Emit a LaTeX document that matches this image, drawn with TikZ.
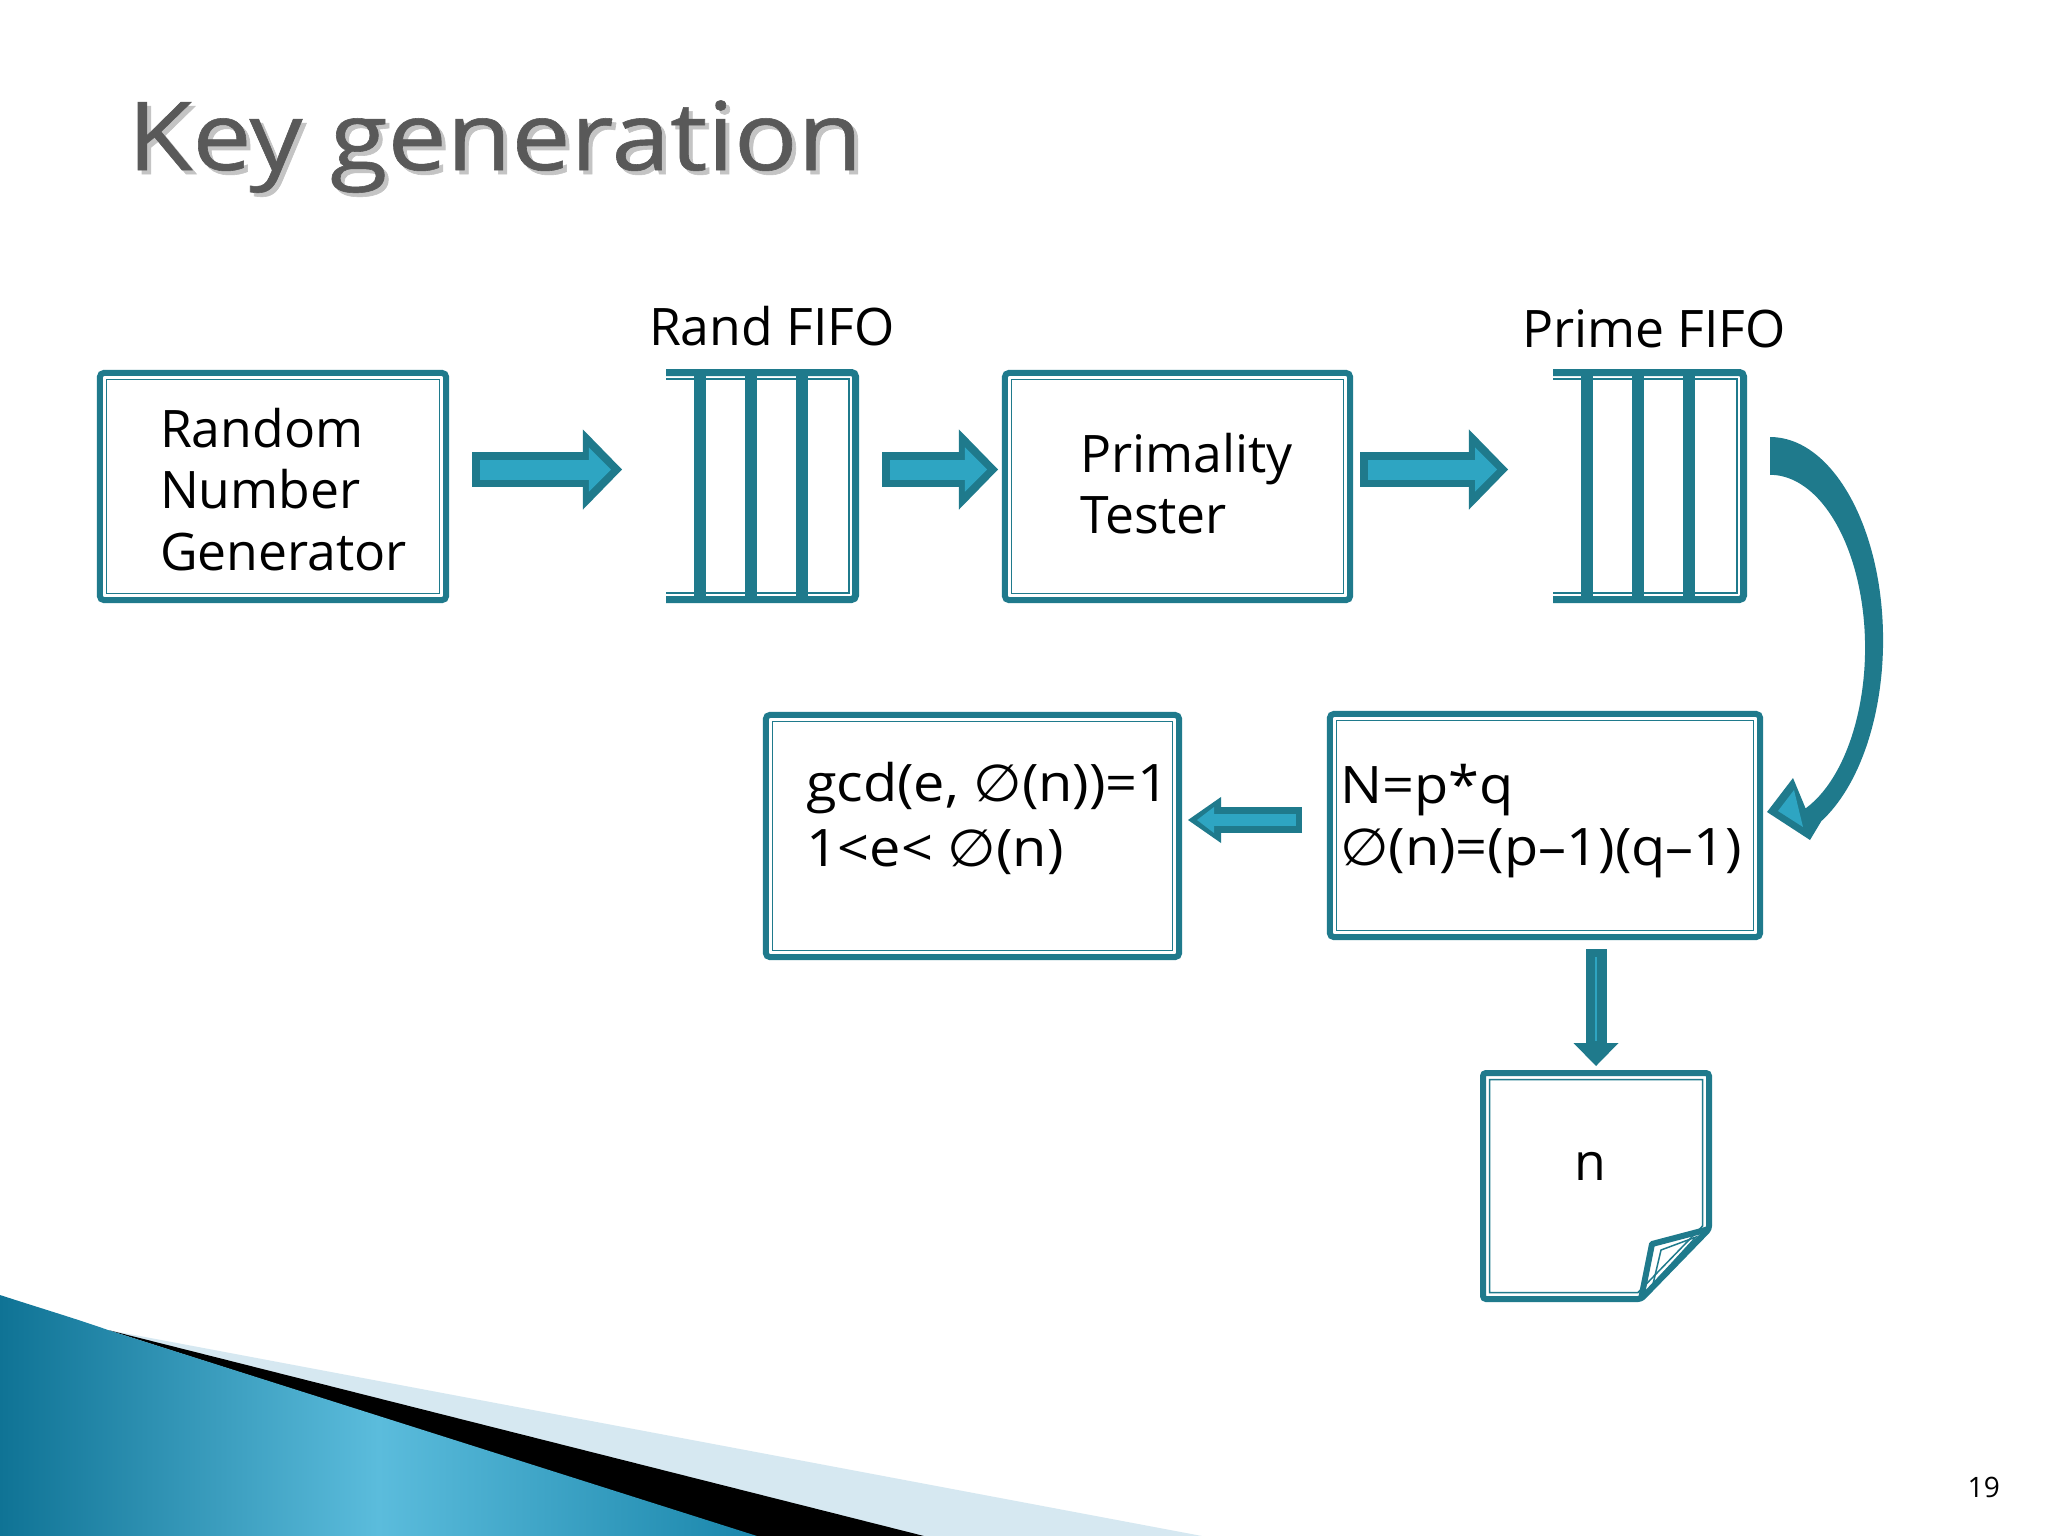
\documentclass[tikz,border=0pt]{standalone}
\usepackage{fontspec}
\setmainfont{Open Sans}
\newfontfamily\symfont{DejaVu Sans}
\newfontfamily\titlefont[FakeBold=0.6]{Open Sans}
\usetikzlibrary{arrows.meta,calc}
\definecolor{tealA}{HTML}{1F7A8C}
\definecolor{tealL}{HTML}{2EA5C2}
\definecolor{titlegray}{HTML}{595959}
\definecolor{shadowgray}{HTML}{C4C4C4}
\definecolor{swooshlight}{HTML}{D6E8F1}
\definecolor{swooshdark}{HTML}{0F7395}
\definecolor{swooshmid}{HTML}{5BBCDC}
\definecolor{swooshright}{HTML}{1A86AB}
\newcommand\emptyglyph{{\symfont ∅}}
\newcommand\wide[1]{\scalebox{1.08}[1]{#1}}
\begin{document}
\begin{tikzpicture}[x=0.01cm,y=-0.01cm,
  boxst/.style={draw=tealA, line width=0.06cm, rounded corners=0.04cm, inner sep=0pt, outer sep=0pt},
  innerln/.style={draw=tealA, line width=0.015cm},
  lbl/.style={inner sep=0pt, outer sep=0pt, anchor=base west, font=\fontsize{14.7}{17.5}\selectfont},
  fifoout/.style={draw=tealA, line width=0.07cm, rounded corners=0.04cm, line cap=butt},
  fifoin/.style={draw=tealA, line width=0.02cm, line cap=butt},
  fifobar/.style={fill=tealA},
  blockarr/.style={draw=tealA, line width=0.35cm, -{Triangle[length=0.39cm, width=0.80cm, line width=0pt]}},
  blockin/.style={draw=tealL, line width=0.20cm, -{Triangle[length=0.22cm, width=0.44cm, line width=0pt]}},
  smallarr/.style={draw=tealA, line width=0.26cm, -{Triangle[length=0.33cm, width=0.46cm, line width=0pt]}},
  smallin/.style={draw=tealL, line width=0.12cm, -{Triangle[length=0.17cm, width=0.26cm, line width=0pt]}},
  downarr/.style={draw=tealA, line width=0.21cm, -{Triangle[length=0.23cm, width=0.45cm, line width=0pt]}},
  titlest/.style={anchor=base west, inner sep=0pt, font=\titlefont\fontsize{27}{32}\selectfont},
]
\useasboundingbox (0,0) rectangle (2048,1536);
\fill[white] (0,0) rectangle (2048,1536);

% ---- bottom-left swoosh
\fill[swooshlight] (108,1330) -- (1202,1536) -- (900,1536) -- cycle;
\fill[black] (108,1330) -- (924,1536) -- (752,1536) -- cycle;
\shade[left color=swooshdark, right color=swooshright, middle color=swooshmid]
  (0,1295) .. controls (40,1308) and (80,1320) .. (108,1330) -- (757,1536) -- (0,1536) -- cycle;

% ---- title
\node[titlest, text=shadowgray] (titleshadow) at (131,174) {\scalebox{1.11}[1]{Key generation}};
\node[titlest, text=titlegray] (title) at (127,170) {\scalebox{1.11}[1]{Key generation}};

% ---- boxes
\node[boxst, minimum width=3.46cm, minimum height=2.27cm] (rng) at (273,486.5) {};
\draw[innerln] ([shift={(6.5,6.5)}]rng.north west) rectangle ([shift={(-6.5,-6.5)}]rng.south east);
\node[lbl] (rngA) at (160,447) {Random};
\node[lbl] (rngB) at (160,508) {Number};
\node[lbl] (rngC) at (160,570) {Generator};

\node[boxst, minimum width=3.45cm, minimum height=2.27cm] (prim) at (1177.5,486.5) {};
\draw[innerln] ([shift={(6.5,6.5)}]prim.north west) rectangle ([shift={(-6.5,-6.5)}]prim.south east);
\node[lbl] (primA) at (1080,472) {Primality};
\node[lbl] (primB) at (1080,533) {Tester};

\node[boxst, minimum width=4.13cm, minimum height=2.42cm] (gcd) at (972.5,836) {};
\draw[innerln] ([shift={(6.5,6.5)}]gcd.north west) rectangle ([shift={(-6.5,-6.5)}]gcd.south east);
\node[lbl] (gcdA) at (806,801) {\wide{gcd(e, \emptyglyph(n))=1}};
\node[lbl] (gcdB) at (806,866) {\wide{1<e< \emptyglyph(n)}};

\node[boxst, minimum width=4.30cm, minimum height=2.23cm] (nbox) at (1545,825.5) {};
\draw[innerln] ([shift={(6.5,6.5)}]nbox.north west) rectangle ([shift={(-6.5,-6.5)}]nbox.south east);
\node[lbl] (nA) at (1340,803) {\wide{N=p*q}};
\node[lbl] (nB) at (1340,865) {\wide{\emptyglyph(n)=(p–1)(q–1)}};

% ---- FIFOs
\node[inner sep=0pt, minimum width=1.93cm, minimum height=2.34cm] (randfifo) at (762.5,486) {};
\node[lbl] (randlbl) at (649,345) {Rand FIFO};
\begin{scope}[shift={(666,0)}]
  \draw[fifoout] (0,372.5) -- (189.5,372.5) -- (189.5,599.5) -- (0,599.5);
  \draw[fifoin] (0,379.3) -- (183,379.3) -- (183,592.5) -- (0,592.5);
  \fill[fifobar] (28,369) rectangle (40,603);
  \fill[fifobar] (79,369) rectangle (91,603);
  \fill[fifobar] (130,369) rectangle (142,603);
\end{scope}

\node[inner sep=0pt, minimum width=1.94cm, minimum height=2.34cm] (primefifo) at (1650,486) {};
\node[lbl] (primelbl) at (1522,347) {Prime FIFO};
\begin{scope}[shift={(1553,0)}]
  \draw[fifoout] (0,372.5) -- (190.5,372.5) -- (190.5,599.5) -- (0,599.5);
  \draw[fifoin] (0,379.3) -- (184,379.3) -- (184,592.5) -- (0,592.5);
  \fill[fifobar] (28,369) rectangle (40,603);
  \fill[fifobar] (79,369) rectangle (91,603);
  \fill[fifobar] (130,369) rectangle (142,603);
\end{scope}

% ---- document n
\node[inner sep=0pt, minimum width=2.32cm, minimum height=2.32cm] (docn) at (1596,1186) {};
\draw[tealA, line width=0.06cm, rounded corners=0.03cm] (1483,1073) -- (1709,1073) -- (1709,1229) -- (1641,1299) -- (1483,1299) -- cycle;
\draw[innerln] (1489.5,1079.5) -- (1702.5,1079.5) -- (1702.5,1226) -- (1638,1292.5) -- (1489.5,1292.5) -- cycle;
\draw[tealA, line width=0.06cm, line join=round] (1709,1229) -- (1652,1244) -- (1641,1299);
\draw[innerln] (1696,1237) -- (1661,1250) -- (1653,1284) -- cycle;
\node[inner sep=0pt, anchor=base, font=\fontsize{14.7}{17.5}\selectfont] (ntext) at (1590,1180) {n};

% ---- straight block arrows
\coordinate (a1s) at (472,469.5);  \coordinate (a1e) at (622,469.5);
\coordinate (a2s) at (882,469.5);  \coordinate (a2e) at (998,469.5);
\coordinate (a3s) at (1360,469.5); \coordinate (a3e) at (1508,469.5);
\draw[blockarr] (a1s) -- (a1e);
\draw[blockin] ($(a1s)+(8,0)$) -- ($(a1e)+(-11,0)$);
\draw[blockarr] (a2s) -- (a2e);
\draw[blockin] ($(a2s)+(8,0)$) -- ($(a2e)+(-11,0)$);
\draw[blockarr] (a3s) -- (a3e);
\draw[blockin] ($(a3s)+(8,0)$) -- ($(a3e)+(-11,0)$);

\coordinate (a4s) at (1302,820); \coordinate (a4e) at (1188,820);
\draw[smallarr] (a4s) -- (a4e);
\draw[smallin] ($(a4s)+(-6,0)$) -- ($(a4e)+(9,0)$);

\coordinate (a5s) at (1596,949); \coordinate (a5e) at (1596,1066);
\draw[downarr] (a5s) -- (a5e);
\draw[tealL, line width=0.025cm] ($(a5s)+(0,8)$) -- ($(a5e)+(0,-25)$);

% ---- curved arrow Prime FIFO -> N box
\coordinate (cvs) at (1770,437);
\coordinate (cve) at (1767,812);
\fill[tealA] (cvs) arc[start angle=90, end angle=-63, x radius=1.13cm, y radius=2.03cm]
  -- (1810,840) -- (cve) -- (1793,778) -- (1805.6,808.4)
  arc[start angle=-68, end angle=90, x radius=0.95cm, y radius=1.73cm] -- cycle;
\fill[tealL] (1794,790) -- (1778,811) -- (1803,827) -- cycle;

% ---- page number
\node[anchor=base west, inner sep=0pt, font=\fontsize{8}{10}\selectfont] (pagenum) at (1967,1497) {19};
\end{tikzpicture}
\end{document}
